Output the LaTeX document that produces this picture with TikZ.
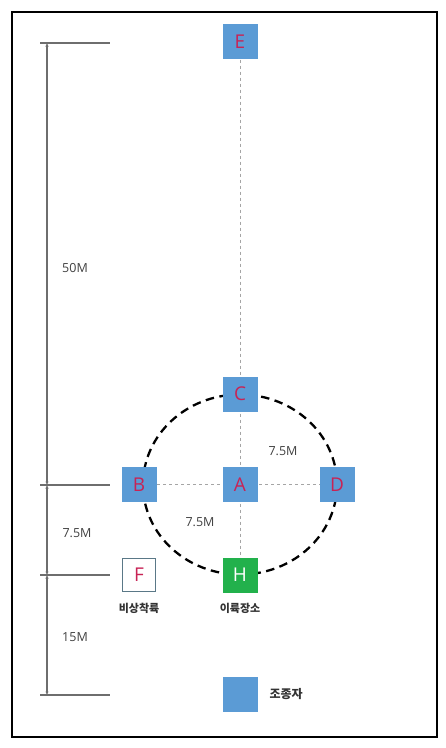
\documentclass[tikz,border=0pt]{standalone}
\usepackage{fontspec}
\setmainfont{Open Sans}
\newfontfamily\kr{Noto Sans CJK KR}
\usetikzlibrary{arrows.meta}
\definecolor{boxblue}{RGB}{91,155,213}
\definecolor{boxgreen}{RGB}{34,177,76}
\definecolor{letred}{RGB}{200,35,85}
\definecolor{fborder}{RGB}{90,120,135}
\definecolor{dimgray}{RGB}{110,110,110}
\definecolor{guide}{RGB}{165,165,165}
\tikzset{
  pilot/.style={draw=none,fill=boxblue,minimum size=35pt,inner sep=0pt,text=letred,font=\fontsize{19}{19}\selectfont},
  takeoff/.style={pilot,fill=boxgreen,text=white},
  emerg/.style={pilot,fill=white,draw=fborder,line width=1.8pt,minimum size=33pt},
  guideline/.style={draw=guide,line width=0.7pt,dash pattern=on 3pt off 3pt},
  ring/.style={draw=black,line width=2.3pt,dash pattern=on 8.5pt off 5.5pt},
  dimline/.style={draw=dimgray,line width=1.2pt},
  dimarrow/.style={draw=dimgray,line width=1.2pt,{Latex[length=3.5pt,width=3.5pt]}-{Latex[length=3.5pt,width=3.5pt]}},
  dimlabel/.style={font=\fontsize{12.5}{12.5}\selectfont,text=black!75},
  krlabel/.style={font=\kr\bfseries\fontsize{11}{11}\selectfont,text=black!80}
}
\begin{document}
\begin{tikzpicture}[x=1pt,y=-1pt]
\useasboundingbox (0,0) rectangle (446,748);
\draw[line width=2.5pt] (12,12) rectangle (437,737);
% coordinates
\coordinate (pE) at (240,41.5);
\coordinate (pC) at (240,394);
\coordinate (pA) at (240,484.5);
\coordinate (pB) at (139,484.5);
\coordinate (pD) at (337,484.5);
\coordinate (pH) at (240,575);
% guides
\draw[guideline] (pE) -- (pH);
\draw[guideline] (pB) -- (pD);
% ring
\draw[ring] (pA) ellipse [x radius=97, y radius=90];
% boxes
\node[pilot] (E) at (pE) {E};
\node[pilot] (C) at (pC) {C};
\node[pilot] (A) at (pA) {A};
\node[pilot] (B) at (pB) {B};
\node[pilot] (D) at (pD) {D};
\node[takeoff] (H) at (pH) {H};
\node[emerg] (F) at (139,575) {F};
\node[krlabel] (Flab) at (139,608) {비상착륙};
\node[krlabel] (Hlab) at (240,608) {이륙장소};
\node[dimlabel] (r1) at (283,451) {7.5M};
\node[dimlabel] (r2) at (200,522) {7.5M};
% dimensions
\coordinate (t1a) at (40,43);  \coordinate (t1b) at (110,43);
\coordinate (t2a) at (40,485); \coordinate (t2b) at (110,485);
\coordinate (t3a) at (40,575); \coordinate (t3b) at (110,575);
\coordinate (t4a) at (40,695); \coordinate (t4b) at (110,695);
\coordinate (v1) at (47,43);
\coordinate (v2) at (47,485);
\coordinate (v3) at (47,575);
\coordinate (v4) at (47,695);
\draw[dimline] (t1a) -- (t1b);
\draw[dimline] (t2a) -- (t2b);
\draw[dimline] (t3a) -- (t3b);
\draw[dimline] (t4a) -- (t4b);
\draw[dimarrow] (v1) -- (v2);
\draw[dimarrow] (v2) -- (v3);
\draw[dimarrow] (v3) -- (v4);
\node[dimlabel] (d50) at (75,268) {50M};
\node[dimlabel] (d75) at (77,533) {7.5M};
\node[dimlabel] (d15) at (75,637) {15M};
% legend
\node[pilot] (L) at (240,694) {};
\node[krlabel,anchor=west,font=\kr\bfseries\fontsize{12}{12}\selectfont] (Llab) at (266,694) {조종자};
\end{tikzpicture}
\end{document}
